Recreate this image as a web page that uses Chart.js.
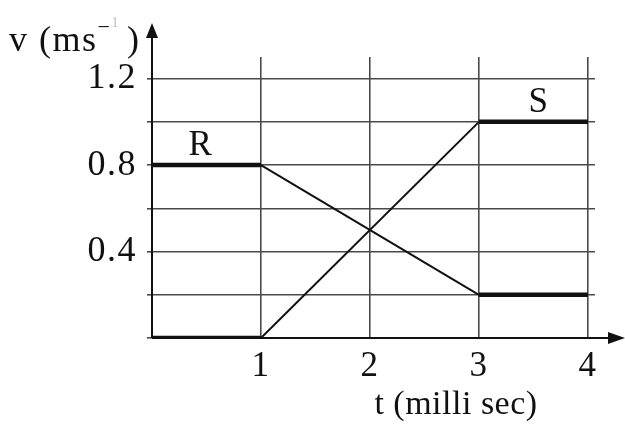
<!DOCTYPE html>
<html>
<head>
<meta charset="utf-8">
<script src="https://cdn.jsdelivr.net/npm/chart.js@4.4.1/dist/chart.umd.min.js"></script>
<style>
  html, body { margin: 0; padding: 0; background: #fff; }
  canvas { display: block; }
</style>
</head>
<body>
<canvas id="c" width="625" height="424"></canvas>
<script>
// Time axis (milliseconds)
const times = [0, 1, 3, 4];
// Velocity of body R and body S (m/s)
const velocityR = [0.8, 0.8, 0.2, 0.2];
const velocityS = [0, 0, 1.0, 1.0];
// Labelled y ticks and x ticks
const yLabelTicks = [0.4, 0.8, 1.2];
const xLabelTicks = [1, 2, 3, 4];
// Series name labels and where they sit (data coordinates)
const seriesNames = ['R', 'S'];
const namePositions = [[0.45, 0.89], [3.55, 1.09]];

const FONT = '"Liberation Serif", "Times New Roman", serif';
const INK = '#111';
const GRID = '#4a4a4a';
const SPACING = '1.5px';

const toPoints = (xs, ys) => xs.map((x, i) => ({ x, y: ys[i] }));
// Flat stretches drawn heavy, sloped stretches drawn thin
const segWidth = ctx => (ctx.p0.parsed.y === ctx.p1.parsed.y ? 4.5 : 2);

const near = (v, list) => list.some(t => Math.abs(t - v) < 1e-6);

// Slightly open lettering for all text on the canvas
const spacing = {
  id: 'spacing',
  beforeUpdate(chart) { chart.ctx.letterSpacing = SPACING; },
  beforeDraw(chart) { chart.ctx.letterSpacing = SPACING; }
};

const decorations = {
  id: 'decorations',
  afterDraw(chart) {
    const { ctx, scales: { x, y } } = chart;
    const ox = x.getPixelForValue(0);
    const oy = y.getPixelForValue(0);
    ctx.save();
    ctx.letterSpacing = SPACING;
    ctx.strokeStyle = INK;
    ctx.fillStyle = INK;
    ctx.lineWidth = 2;
    // vertical axis with arrow
    ctx.beginPath();
    ctx.moveTo(ox, oy);
    ctx.lineTo(ox, 34);
    ctx.stroke();
    ctx.beginPath();
    ctx.moveTo(ox, 23);
    ctx.lineTo(ox - 6, 38);
    ctx.lineTo(ox + 6, 38);
    ctx.closePath();
    ctx.fill();
    // horizontal axis with arrow
    ctx.beginPath();
    ctx.moveTo(ox, oy);
    ctx.lineTo(612, oy);
    ctx.stroke();
    ctx.beginPath();
    ctx.moveTo(625, oy);
    ctx.lineTo(608, oy - 6);
    ctx.lineTo(608, oy + 6);
    ctx.closePath();
    ctx.fill();

    // series names
    ctx.font = '35px ' + FONT;
    ctx.textAlign = 'center';
    ctx.textBaseline = 'middle';
    seriesNames.forEach((n, i) => {
      ctx.fillText(n, x.getPixelForValue(namePositions[i][0]), y.getPixelForValue(namePositions[i][1]));
    });

    // y axis title: v (ms^-1)
    ctx.textAlign = 'left';
    ctx.textBaseline = 'alphabetic';
    ctx.font = '36px ' + FONT;
    let px = 9;
    const base = 51;
    ctx.fillText('v (ms', px, base);
    px += ctx.measureText('v (ms').width;
    ctx.font = '22px ' + FONT;
    ctx.fillText('\u2212', px, base - 17);
    const mw = ctx.measureText('\u2212').width;
    ctx.fillStyle = '#bbb';
    ctx.font = '14px ' + FONT;
    ctx.fillText('1', px + mw, base - 24);
    ctx.fillStyle = INK;
    ctx.font = '36px ' + FONT;
    ctx.fillText(')', 127, base);

    // x axis title
    ctx.textAlign = 'center';
    ctx.letterSpacing = '0.5px';
    ctx.font = '34px ' + FONT;
    ctx.fillText('t (milli sec)', 456, 414);
    ctx.restore();
  }
};

new Chart(document.getElementById('c'), {
  type: 'line',
  data: {
    datasets: [
      {
        label: seriesNames[0],
        data: toPoints(times, velocityR),
        borderColor: INK,
        borderWidth: 2,
        pointRadius: 0,
        segment: { borderWidth: segWidth },
        tension: 0
      },
      {
        label: seriesNames[1],
        data: toPoints(times, velocityS),
        borderColor: INK,
        borderWidth: 2,
        pointRadius: 0,
        segment: { borderWidth: segWidth },
        tension: 0
      }
    ]
  },
  options: {
    responsive: false,
    animation: false,
    devicePixelRatio: 1,
    layout: { padding: { top: 57, right: 30, left: 0, bottom: 0 } },
    plugins: { legend: { display: false }, tooltip: { enabled: false } },
    scales: {
      x: {
        type: 'linear',
        min: 0,
        max: 4.065,
        afterBuildTicks: s => { s.ticks = [0, 1, 2, 3, 4].map(v => ({ value: v })); },
        afterFit: s => { s.height = 86; },
        border: { display: false },
        grid: {
          color: ctx => (ctx.tick && ctx.tick.value === 0 ? 'rgba(0,0,0,0)' : GRID),
          lineWidth: 1.6,
          drawTicks: false
        },
        ticks: {
          padding: 8,
          maxRotation: 0,
          color: INK,
          font: { family: FONT, size: 35 },
          callback: v => (near(v, xLabelTicks) ? String(v) : '')
        }
      },
      y: {
        type: 'linear',
        min: 0,
        max: 1.3,
        afterBuildTicks: s => {
          const t = [];
          for (let i = 0; i <= 6; i++) t.push({ value: Math.round(i * 2) / 10 });
          s.ticks = t;
        },
        afterFit: s => { s.width = 152; },
        border: { display: false },
        grid: {
          color: ctx => (ctx.tick && ctx.tick.value === 0 ? 'rgba(0,0,0,0)' : GRID),
          lineWidth: 1.6,
          drawTicks: true,
          tickLength: 5,
          tickColor: GRID
        },
        ticks: {
          padding: 10,
          color: INK,
          font: { family: FONT, size: 36 },
          callback: v => (near(v, yLabelTicks) ? v.toFixed(1) : '')
        }
      }
    }
  },
  plugins: [spacing, decorations]
});
</script>
</body>
</html>
